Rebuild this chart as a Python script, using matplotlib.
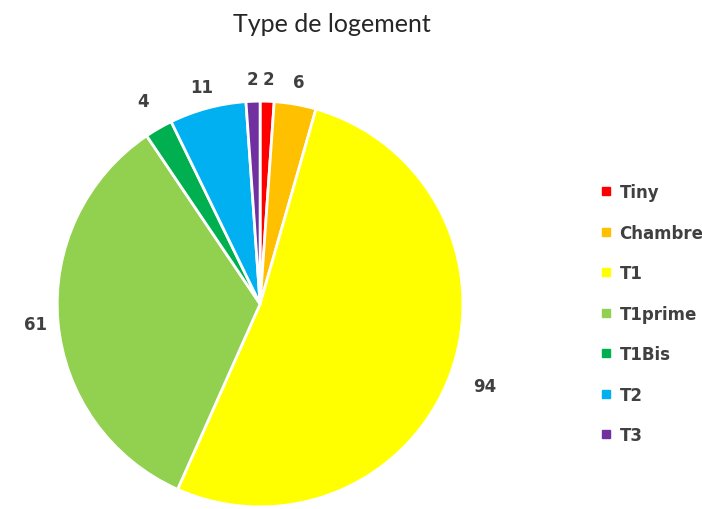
import matplotlib.pyplot as plt
from matplotlib.lines import Line2D

# Type de logement - pie, Excel style
categories = ['Tiny', 'Chambre', 'T1', 'T1prime', 'T1Bis', 'T2', 'T3']
counts = [2, 6, 94, 61, 4, 11, 2]
colors = ['#FF0000', '#FFC000', '#FFFF00', '#92D050', '#00B050', '#00B0F0', '#7030A0']

label_color = '#404040'

fig = plt.figure(figsize=(7.02, 5.10), dpi=100)
ax = fig.add_axes([0.067, -0.0157, 0.607, 0.8353])

wedges, texts = ax.pie(counts, colors=colors, labels=[str(c) for c in counts],
                       startangle=90, counterclock=False, labeldistance=1.11,
                       wedgeprops=dict(edgecolor='white', linewidth=2),
                       textprops=dict(color=label_color, fontsize=12,
                                      fontweight='bold', family='DejaVu Sans'))
for t in texts:
    t.set_ha('center')
    t.set_va('center')
# the big slice label sits a bit further out (Excel "outside end")
x, y = texts[2].get_position()
texts[2].set_position((x * 1.06, y * 1.06))
x, y = texts[4].get_position()
texts[4].set_position((x * 1.04, y * 1.04))

ax.set_xlim(-1.05, 1.05)
ax.set_ylim(-1.05, 1.05)
ax.axis('off')

fig.text(0.473, 0.952, 'Type de logement', ha='center', va='center',
         fontsize=18, family='Lato', color='#262626')

handles = [Line2D([], [], marker='s', linestyle='', markersize=6,
                  markerfacecolor=c, markeredgecolor=c) for c in colors]
leg = fig.legend(handles, categories, loc='upper left',
                 bbox_to_anchor=(0.835, 0.668), frameon=False,
                 handlelength=0.6, handletextpad=0.5, labelspacing=1.35,
                 prop=dict(size=12, weight='bold', family='DejaVu Sans'))
for t in leg.get_texts():
    t.set_color(label_color)

fig.savefig('out.png', dpi=100, facecolor='white')
